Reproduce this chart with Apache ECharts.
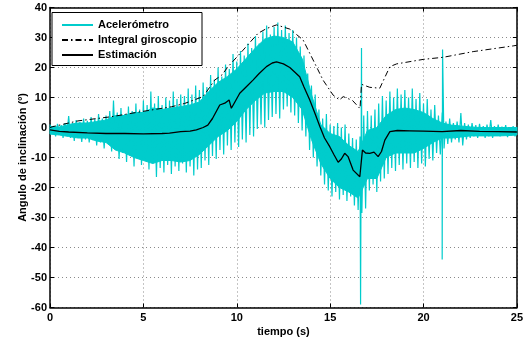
<!DOCTYPE html>
<html>
<head>
<meta charset="utf-8">
<script src="https://cdn.jsdelivr.net/npm/echarts@6/dist/echarts.min.js"></script>
<style>
html,body{margin:0;padding:0;background:#fff;}
#chart{width:526px;height:343px;}
</style>
</head>
<body>
<div id="chart"></div>
<script>
// Accelerometer noise envelope (outer spikes), every 0.2 s from t=0 to t=25
const accStep = 0.2;
const accHi = [
  1.0, 0.5, 1.2, 0.8, 1.5,
  3.8, 1.5, 2.5, 1.8, 3.0,
  2.2, 3.5, 2.8, 4.5, 3.0,
  4.0, 5.5, 9.0, 5.0, 6.5,
  4.5, 7.0, 5.5, 8.0, 6.0,
  9.0, 7.5, 12.0, 8.0, 10.5,
  7.5, 10.0, 9.0, 12.0, 9.5,
  11.0, 10.5, 13.0, 11.0, 14.0,
  12.5, 15.0, 13.5, 17.5, 16.0,
  20.0, 17.0, 21.0, 19.5, 24.5,
  22.0, 25.5, 24.0, 28.0, 26.5,
  30.5, 28.0, 32.0, 34.0, 31.0,
  33.5, 35.0, 32.5, 34.0, 31.5,
  32.5, 30.0, 27.0, 24.0, 18.0,
  14.0, 11.0, 6.0, 3.0, 4.5,
  1.0, 0.5, 1.5, 0.0, 1.0,
  -2.0, -3.5, -4.0, -3.0, 4.0,
  5.5, 4.0, 6.0, 8.0, 10.5,
  9.0, 12.0, 10.0, 13.0, 11.0,
  12.5, 10.0, 13.0, 9.5, 11.5,
  8.0, 9.5, 6.0, 7.5, 4.0,
  5.0, 2.0, 3.0, 1.5, 2.0,
  4.8, 1.5, 1.0, 1.5, 0.8,
  1.2, 0.5, 1.0, 2.5, 0.5,
  1.0, 0.3, 0.8, 0.0, 0.5,
  0.2
];
const accLo = [
  -2.0, -3.0, -2.5, -3.5, -2.8,
  -3.5, -4.5, -3.5, -4.8, -4.0,
  -5.0, -4.2, -6.0, -5.0, -7.0,
  -5.5, -8.0, -7.0, -10.5, -8.5,
  -11.5, -9.5, -13.0, -10.5, -12.5,
  -11.0, -14.0, -12.0, -16.5, -13.5,
  -15.0, -12.5, -15.5, -13.0, -14.5,
  -12.0, -15.0, -13.0, -16.0, -14.0,
  -13.5, -11.0, -12.5, -9.5, -10.5,
  -7.5, -9.0, -6.0, -7.5, -5.0,
  -6.5, -4.0, -5.0, -2.5, -3.0,
  -0.5, 1.0, 0.0, 2.5, 3.5,
  4.5, 3.0, 6.0, 7.0, 5.0,
  4.0, 1.5, -1.0, -3.0, -7.5,
  -10.0, -13.0, -16.0, -19.0, -21.0,
  -23.0, -21.5, -24.0, -22.5, -24.5,
  -23.0, -26.0, -27.5, -28.5, -27.0,
  -21.0, -19.0, -21.5, -18.0, -17.0,
  -15.5, -13.5, -14.5, -12.5, -14.0,
  -12.0, -13.5, -11.5, -13.5, -12.0,
  -13.0, -10.5, -11.0, -8.5, -9.0,
  -7.0, -5.5, -5.0, -4.0, -5.0,
  -6.0, -4.0, -3.5, -3.0, -3.5,
  -2.8, -3.5, -3.0, -3.5, -2.8,
  -3.0, -2.5, -3.2, -2.6, -3.0,
  -2.5
];
// Dense core of the accelerometer trace, every 0.5 s from t=0 to t=25
const coreStep = 0.5;
const coreHi = [0.3, 0.2, 1, 1.5, 1.5, 2, 2.5, 4, 4, 5, 5, 6.5, 6, 6.5, 7, 7.5, 8.5, 12, 15, 17, 19.5, 23, 26.5, 29.5, 30.5, 30, 28.5, 23, 11, 1, -2, -3, -6, -8, -1, 0, 4, 6, 6.5, 6, 5, 3, 1.5, 0.8, 0.5, 0.2, 0, 0, 0, 0, 0];
const coreLo = [-2.2, -2.5, -3, -3.5, -3.5, -4.5, -5, -7.5, -8.5, -10, -11, -12, -11, -11, -11.5, -11, -9, -6, -3, -1, 2, 6, 9, 11.5, 12, 12, 10, 6, -4, -12, -17, -20, -21.5, -23.5, -17, -17, -10, -8.5, -8.5, -8.5, -7, -5, -3.5, -3.5, -3.2, -2.8, -2.8, -2.8, -2.8, -2.7, -2.5];
// isolated accelerometer spikes
const accSpikeT = [16.63, 16.68, 21.0, 21.02];
const accSpikeV = [-59, 26.5, -44, 26];

// Integral giroscopio
const gyroT = [0, 0.16, 1.5, 3.29, 4.9, 6.5, 7.2, 8.2, 8.82, 9.2, 9.54, 10.34, 11.14, 11.6, 12.13, 12.84, 13.2, 13.55, 14.09, 14.62, 15.16, 15.5, 15.7, 16.2, 16.6, 16.68, 17.12, 17.66, 18.2, 18.56, 19.98, 21.05, 22.66, 24.8, 25];
const gyroV = [0, 0.3, 2.2, 3.6, 5.3, 6.9, 8.0, 10.3, 15.8, 17.5, 20.3, 25.8, 31.4, 33.0, 34.2, 32.8, 31.0, 29.2, 22.5, 15.8, 10.8, 9.2, 10.3, 9.0, 6.3, 14.4, 13.4, 13.1, 20.3, 21.2, 22.7, 23.4, 25.3, 27.2, 27.4];

// Estimación
const estT = [0, 0.5, 1, 2, 3, 4, 5, 6, 6.4, 7, 7.5, 7.84, 8.2, 8.45, 8.7, 9.09, 9.36, 9.59, 9.71, 9.9, 10.16, 10.5, 10.87, 11.2, 11.59, 11.9, 12.13, 12.5, 12.84, 13.1, 13.37, 13.6, 13.91, 14.2, 14.45, 14.7, 14.98, 15.2, 15.43, 15.6, 15.78, 15.96, 16.23, 16.59, 16.66, 16.73, 16.9, 17.12, 17.35, 17.57, 17.75, 17.93, 18.2, 18.6, 19.27, 20, 21, 22, 23, 24, 25];
const estV = [-0.8, -1.3, -1.5, -1.8, -2.0, -2.0, -2.1, -2.0, -1.9, -1.4, -1.2, -0.8, 0.0, 0.8, 3.0, 7.5, 8.1, 9.2, 6.4, 8.5, 11.4, 13.5, 15.8, 18.0, 20.3, 21.5, 21.9, 21.2, 20.0, 18.5, 16.9, 13.5, 9.2, 4.5, 0.3, -3.5, -6.4, -9.0, -11.6, -10.5, -8.6, -9.7, -14.2, -16.4, -16.5, -7.5, -8.5, -8.6, -8.2, -9.7, -8.0, -4.2, -1.4, -1.0, -1.1, -1.2, -1.4, -1.0, -1.3, -1.4, -1.5];

const seriesNames = ['Acelerómetro', 'Integral giroscopio', 'Estimación'];
const xTicks = {min: 0, max: 25, interval: 5};
const yTicks = {min: -60, max: 40, interval: 10};

// build point lists
const accData = [];
for (let k = 0; k < accHi.length; k++) {
  const t = +(k * accStep).toFixed(3);
  accData.push([t, accHi[k]]);
  if (k < accHi.length - 1) accData.push([+(t + accStep / 2).toFixed(3), accLo[k]]);
}
for (let i = 0; i < accSpikeT.length; i++) accData.push([accSpikeT[i], accSpikeV[i]]);
accData.sort((a, b) => a[0] - b[0]);
const gyroData = gyroT.map((t, i) => [t, gyroV[i]]);
const estData = estT.map((t, i) => [t, estV[i]]);

const ACC_COLOR = '#00CCCC';
const FONT = '"Liberation Sans", Arial, Helvetica, sans-serif';
const labelStyle = {color: '#000', fontWeight: 'bold', fontSize: 11, fontFamily: FONT};
const frameLine = {show: true, onZero: false, lineStyle: {color: '#000', width: 1.5}};
const innerTick = {show: true, inside: true, length: 4, lineStyle: {color: '#000', width: 1}};
const gridLine = {show: true, lineStyle: {color: '#8a8a8a', width: 1, type: [1, 3]}};

function renderCore(params, api) {
  const pts = [];
  for (let i = 0; i < coreHi.length; i++) pts.push(api.coord([i * coreStep, coreHi[i]]));
  for (let i = coreLo.length - 1; i >= 0; i--) pts.push(api.coord([i * coreStep, coreLo[i]]));
  return {type: 'polygon', shape: {points: pts}, style: {fill: ACC_COLOR, stroke: ACC_COLOR, lineWidth: 1}};
}

const chart = echarts.init(document.getElementById('chart'), null, {renderer: 'canvas'});
chart.setOption({
  animation: false,
  backgroundColor: '#fff',
  grid: {left: 50, top: 7.5, width: 467, height: 300, containLabel: false},
  legend: {
    data: seriesNames,
    orient: 'vertical',
    left: 52,
    top: 12.5,
    backgroundColor: '#fff',
    borderColor: '#000',
    borderWidth: 1,
    borderRadius: 0,
    padding: [7, 5, 5, 9],
    itemWidth: 31,
    itemHeight: 12,
    itemGap: 4,
    itemStyle: {opacity: 0},
    textStyle: labelStyle,
    selectedMode: false,
    z: 10
  },
  xAxis: [
    Object.assign({type: 'value', position: 'bottom', axisLine: frameLine, axisTick: innerTick,
      axisLabel: Object.assign({margin: 5}, labelStyle), splitLine: gridLine,
      name: 'tiempo (s)', nameLocation: 'middle', nameGap: 19, nameMoveOverlap: false, nameTextStyle: labelStyle}, xTicks),
    Object.assign({type: 'value', position: 'top', axisLine: frameLine, axisTick: innerTick,
      axisLabel: {show: false}, splitLine: {show: false}}, xTicks)
  ],
  yAxis: [
    Object.assign({type: 'value', position: 'left', axisLine: frameLine, axisTick: innerTick,
      axisLabel: Object.assign({margin: 3}, labelStyle), splitLine: gridLine,
      name: 'Angulo de inclinación (º)', nameLocation: 'middle', nameGap: 22, nameMoveOverlap: false, nameTextStyle: labelStyle}, yTicks),
    Object.assign({type: 'value', position: 'right', axisLine: frameLine, axisTick: innerTick,
      axisLabel: {show: false}, splitLine: {show: false}}, yTicks)
  ],
  series: [
    {name: 'core', type: 'custom', data: [[0, 0]], renderItem: renderCore, silent: true, z: 1},
    {name: seriesNames[0], type: 'line', data: accData, symbol: 'none', sampling: null,
      lineStyle: {color: ACC_COLOR, width: 1.2}, itemStyle: {color: ACC_COLOR}, z: 2},
    {name: seriesNames[1], type: 'line', data: gyroData, symbol: 'none',
      lineStyle: {color: '#000', width: 1, type: [6, 3, 1.5, 3]}, itemStyle: {color: '#000'}, z: 3},
    {name: seriesNames[2], type: 'line', data: estData, symbol: 'none',
      lineStyle: {color: '#000', width: 1.3}, itemStyle: {color: '#000'}, z: 4}
  ]
});
</script>
</body>
</html>
